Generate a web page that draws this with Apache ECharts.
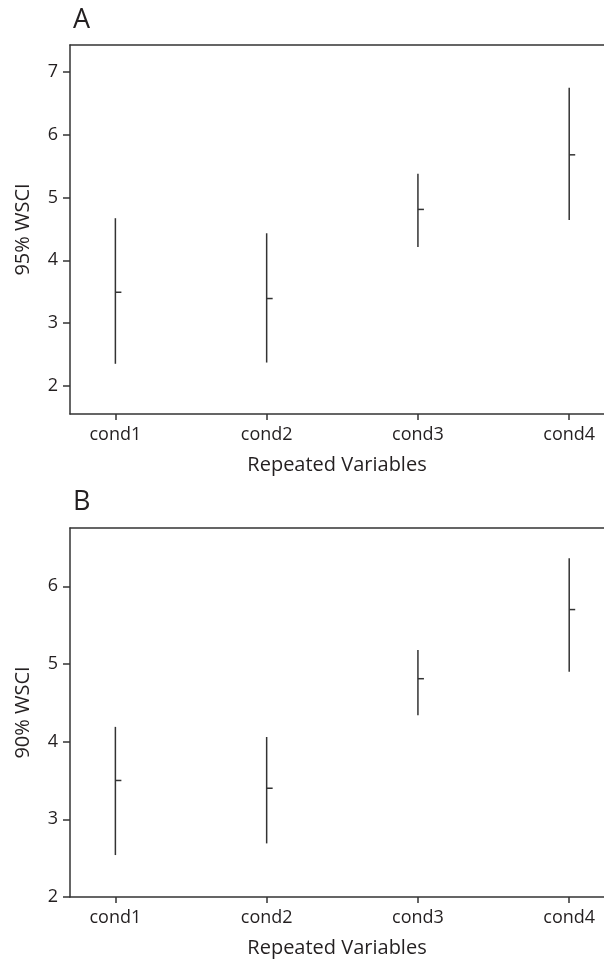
<!DOCTYPE html>
<html>
<head>
<meta charset="utf-8">
<script src="https://cdn.jsdelivr.net/npm/echarts@6/dist/echarts.min.js"></script>
<style>
  html, body { margin: 0; padding: 0; background: #fff; }
  #chart { width: 604px; height: 964px; }
</style>
</head>
<body>
<div id="chart"></div>
<script>
const categories = ['cond1', 'cond2', 'cond3', 'cond4']
const positions = [1, 2, 3, 4]

// panel A: 95% within-subject CI
const meanA = [3.49, 3.39, 4.81, 5.68]
const lowerA = [2.35, 2.37, 4.21, 4.64]
const upperA = [4.67, 4.43, 5.38, 6.75]

// panel B: 90% within-subject CI
const meanB = [3.50, 3.40, 4.81, 5.70]
const lowerB = [2.54, 2.69, 4.34, 4.90]
const upperB = [4.19, 4.06, 5.18, 6.36]

const majorA = [2, 3, 4, 5, 6, 7]
const minorA = [1.5, 2.5, 3.5, 4.5, 5.5, 6.5]
const majorB = [2, 3, 4, 5, 6]
const minorB = [2.5, 3.5, 4.5, 5.5, 6.5]

const font = 'Open Sans'
const ink = '#231f20'
const lineColor = '#333'

function rows(lo, hi, mean) {
  return positions.map((p, i) => [p, lo[i], hi[i], mean[i]])
}

function renderBar(params, api) {
  const x = api.value(0)
  const top = api.coord([x, api.value(2)])
  const bot = api.coord([x, api.value(1)])
  const mid = api.coord([x, api.value(3)])
  const style = { stroke: lineColor, lineWidth: 1.5 }
  return {
    type: 'group',
    children: [
      { type: 'line', shape: { x1: top[0], y1: top[1], x2: bot[0], y2: bot[1] }, style },
      { type: 'line', shape: { x1: mid[0], y1: mid[1], x2: mid[0] + 6, y2: mid[1] }, style }
    ]
  }
}

function xAxisFor(gridIndex) {
  return {
    type: 'value',
    gridIndex,
    min: 0.7,
    max: 4.23,
    name: 'Repeated Variables',
    nameLocation: 'middle',
    nameGap: 41,
    nameTextStyle: { fontFamily: font, fontSize: 20, color: ink },
    splitLine: { show: false },
    axisLine: { lineStyle: { color: lineColor, width: 1.5 } },
    axisTick: { customValues: positions, length: 6, lineStyle: { color: lineColor, width: 1.5 } },
    axisLabel: {
      customValues: positions,
      margin: 12,
      fontFamily: font, fontSize: 18, color: ink,
      formatter: v => categories[Math.round(v) - 1] || ''
    }
  }
}

// plain line along the top edge of each panel
function topEdgeFor(gridIndex) {
  return {
    type: 'value',
    gridIndex,
    position: 'top',
    min: 0.7,
    max: 4.23,
    splitLine: { show: false },
    axisLine: { show: true, lineStyle: { color: lineColor, width: 1.5 } },
    axisTick: { show: false },
    axisLabel: { show: false }
  }
}

function yAxisFor(gridIndex, min, max, major, name) {
  return {
    type: 'value',
    gridIndex,
    min, max,
    name,
    nameLocation: 'middle',
    nameGap: 37,
    nameTextStyle: { fontFamily: font, fontSize: 20, color: ink },
    splitLine: { show: false },
    axisLine: { show: true, lineStyle: { color: lineColor, width: 1.5 } },
    axisTick: { customValues: major, length: 7, lineStyle: { color: lineColor, width: 1.5 } },
    axisLabel: { customValues: major, margin: 12, fontFamily: font, fontSize: 18, color: ink }
  }
}

function minorAxisFor(gridIndex, min, max, minor) {
  return {
    type: 'value',
    gridIndex,
    min, max,
    splitLine: { show: false },
    axisLine: { show: false },
    axisTick: { customValues: minor, length: 3, lineStyle: { color: lineColor, width: 1.5 } },
    axisLabel: { show: false }
  }
}

const chart = echarts.init(document.getElementById('chart'))
chart.setOption({
  animation: false,
  backgroundColor: '#fff',
  title: [
    { text: 'A', left: 68, top: 2, textStyle: { fontFamily: font, fontSize: 27, fontWeight: 'normal', color: ink } },
    { text: 'B', left: 68, top: 484, textStyle: { fontFamily: font, fontSize: 27, fontWeight: 'normal', color: ink } }
  ],
  grid: [
    { left: 70, top: 45, right: 0, height: 369 },
    { left: 70, top: 528, right: 0, height: 369 }
  ],
  xAxis: [xAxisFor(0), xAxisFor(1), topEdgeFor(0), topEdgeFor(1)],
  yAxis: [
    yAxisFor(0, 1.55, 7.43, majorA, '95% WSCI'),
    yAxisFor(1, 2, 6.75, majorB, '90% WSCI'),
    minorAxisFor(0, 1.55, 7.43, minorA),
    minorAxisFor(1, 2, 6.75, minorB)
  ],
  series: [
    { type: 'custom', xAxisIndex: 0, yAxisIndex: 0, renderItem: renderBar, data: rows(lowerA, upperA, meanA) },
    { type: 'custom', xAxisIndex: 1, yAxisIndex: 1, renderItem: renderBar, data: rows(lowerB, upperB, meanB) }
  ]
})
</script>
</body>
</html>
